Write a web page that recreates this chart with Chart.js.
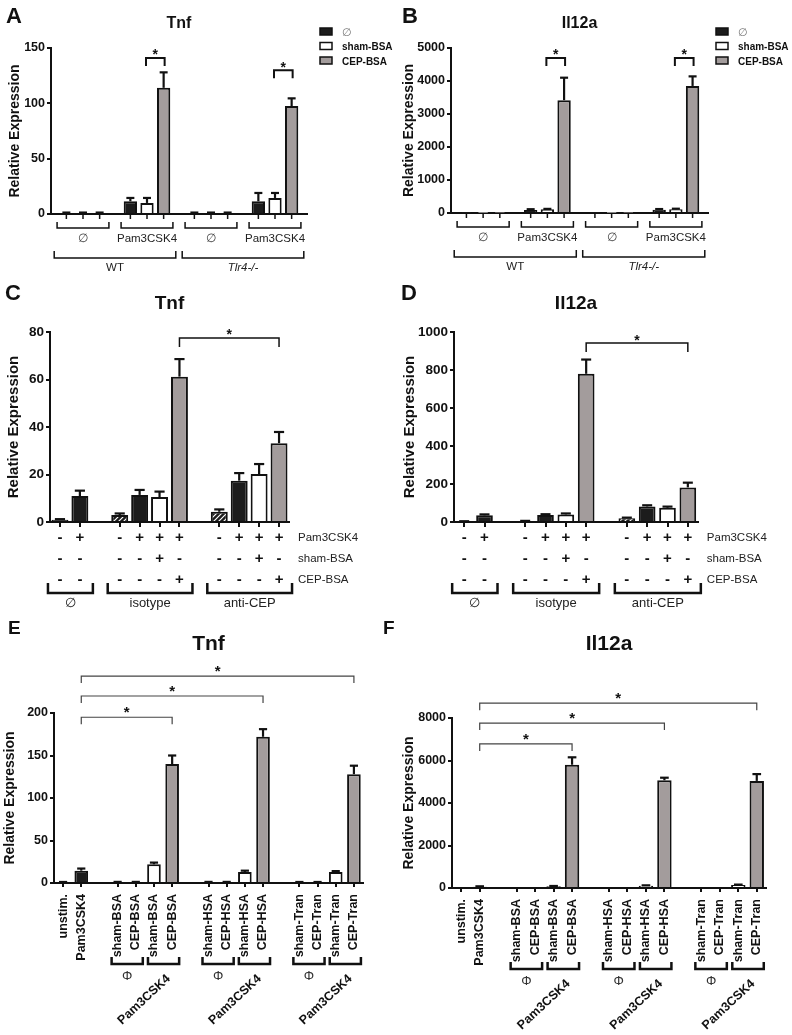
<!DOCTYPE html>
<html>
<head>
<meta charset="utf-8">
<script src="https://cdn.jsdelivr.net/npm/chart.js@4.4.0/dist/chart.umd.min.js"></script>
<style>
  body { margin: 0; background: #fff; width: 792px; height: 1035px; position: relative; overflow: hidden; }
  canvas { position: absolute; }
</style>
</head>
<body>
<canvas id="cA" width="396" height="280" style="left:0;top:0"></canvas>
<canvas id="cB" width="396" height="280" style="left:396px;top:0"></canvas>
<canvas id="cC" width="396" height="335" style="left:0;top:280px"></canvas>
<canvas id="cD" width="396" height="335" style="left:396px;top:280px"></canvas>
<canvas id="cE" width="396" height="420" style="left:0;top:615px"></canvas>
<canvas id="cF" width="396" height="420" style="left:396px;top:615px"></canvas>
<script>
// ---------- data: panels A / B (4 stimulation groups x 3 series) ----------
const groupsAB = ['∅', 'Pam3CSK4', '∅', 'Pam3CSK4'];
const strainsAB = ['WT', 'Tlr4-/-'];
const seriesNames = ['∅', 'sham-BSA', 'CEP-BSA'];

const tnfNone = [1, 11.5, 1, 11.5];
const tnfNoneErr = [0.3, 3, 0.3, 7.5];
const tnfSham = [1, 10, 1, 14.5];
const tnfShamErr = [0.3, 4.5, 0.3, 4.5];
const tnfCep = [1, 114, 1, 97.5];
const tnfCepErr = [0.3, 14, 0.3, 7];

const il12None = [2, 90, 2, 100];
const il12NoneErr = [0, 25, 0, 20];
const il12Sham = [2, 110, 2, 115];
const il12ShamErr = [0, 15, 0, 15];
const il12Cep = [2, 3420, 2, 3850];
const il12CepErr = [0, 680, 0, 290];

// ---------- data: panels C / D ----------
const pam3Row = ['-', '+', '', '-', '+', '+', '+', '', '-', '+', '+', '+'];
const shamRow = ['-', '-', '', '-', '-', '+', '-', '', '-', '-', '+', '-'];
const cepRow  = ['-', '-', '', '-', '-', '-', '+', '', '-', '-', '-', '+'];
const rowNames = ['Pam3CSK4', 'sham-BSA', 'CEP-BSA'];
const antibodyNames = ['∅', 'isotype', 'anti-CEP'];
const antibodyOf = [0, 0, null, 1, 1, 1, 1, null, 2, 2, 2, 2];
const kindCD = ['none', 'none', '', 'hatch', 'none', 'sham', 'cep', '', 'hatch', 'none', 'sham', 'cep'];

const tnfC = [1, 10.9, null, 2.9, 11.4, 10.5, 61.2, null, 4.3, 17.4, 20.2, 33.2];
const tnfCErr = [0.2, 2.3, null, 0.7, 2.1, 2.3, 7.4, null, 1, 3.2, 4.2, 4.7];
const il12D = [3, 35, null, 5, 37, 40, 780, null, 20, 82, 75, 182];
const il12DErr = [1, 5, null, 1, 4, 5, 75, null, 3, 6, 6, 25];

// ---------- data: panels E / F ----------
const labelsEF = ['unstim.', 'Pam3CSK4', '', 'sham-BSA', 'CEP-BSA', 'sham-BSA', 'CEP-BSA', '',
  'sham-HSA', 'CEP-HSA', 'sham-HSA', 'CEP-HSA', '', 'sham-Tran', 'CEP-Tran', 'sham-Tran', 'CEP-Tran'];
const kindEF = ['sham', 'none', '', 'sham', 'cep', 'sham', 'cep', '', 'sham', 'cep', 'sham', 'cep', '',
  'sham', 'cep', 'sham', 'cep'];
const pairOf = [null, null, null, 0, 0, 1, 1, null, 2, 2, 3, 3, null, 4, 4, 5, 5];
const pairNames = ['Φ', 'Pam3CSK4', 'Φ', 'Pam3CSK4', 'Φ', 'Pam3CSK4'];

const tnfE = [1, 14.5, null, 1, 1, 22, 140, null, 1, 1, 13, 172, null, 1, 1, 13, 128];
const tnfEErr = [0.2, 2.5, null, 0.3, 0.3, 2, 10, null, 0.3, 0.3, 1.5, 9, null, 0.2, 0.2, 1, 10];
const il12F = [0, 60, null, 0, 0, 80, 5800, null, 0, 0, 110, 5070, null, 0, 0, 140, 5040];
const il12FErr = [0, 20, null, 0, 0, 15, 350, null, 0, 0, 15, 120, null, 0, 0, 20, 320];

// significance brackets (value = height of the bracket in axis units)
const sigA = [{cat: 1, from: 1, to: 2, y: 141}, {cat: 3, from: 1, to: 2, y: 130}];
const sigB = [{cat: 1, from: 1, to: 2, y: 4700}, {cat: 3, from: 1, to: 2, y: 4700}];
const sigC = [{from: 6, to: 11, y: 77.5}];
const sigD = [{from: 6, to: 11, y: 942}];
const sigE = [{from: 1, to: 6, y: 195}, {from: 1, to: 11, y: 220}, {from: 1, to: 16, y: 243.5}];
const sigF = [{from: 1, to: 6, y: 6780}, {from: 1, to: 11, y: 7760}, {from: 1, to: 16, y: 8700}];

// ---------- styles ----------
const FONT = '"Liberation Sans", Arial, Helvetica, sans-serif';
const INK = '#111111';
const FILLS = {none: '#1c1c1c', sham: '#ffffff', cep: '#a39c9c'};
FILLS.hatch = (function () {
  const c = document.createElement('canvas');
  c.width = 5; c.height = 5;
  const g = c.getContext('2d');
  g.fillStyle = '#1c1c1c'; g.fillRect(0, 0, 5, 5);
  g.strokeStyle = '#ffffff'; g.lineWidth = 1.2;
  g.beginPath();
  g.moveTo(0, 5); g.lineTo(5, 0);
  g.moveTo(-1, 1); g.lineTo(1, -1);
  g.moveTo(4, 6); g.lineTo(6, 4);
  g.stroke();
  return g.createPattern(c, 'repeat');
})();
const SERIES_FILL = [FILLS.none, FILLS.sham, FILLS.cep];

Chart.defaults.font.family = FONT;
Chart.defaults.color = INK;

function font(size, weight, style) {
  return (style || '') + ' ' + (weight || 'normal') + ' ' + size + 'px ' + FONT;
}
function line(ctx, pts, lw, color) {
  ctx.save();
  ctx.strokeStyle = color || INK; ctx.lineWidth = lw; ctx.lineCap = 'butt'; ctx.lineJoin = 'miter';
  ctx.beginPath();
  pts.forEach((p, i) => i ? ctx.lineTo(p[0], p[1]) : ctx.moveTo(p[0], p[1]));
  ctx.stroke();
  ctx.restore();
}
function text(ctx, s, x, y, f, align, color, baseline) {
  ctx.save();
  ctx.font = f; ctx.fillStyle = color || INK;
  ctx.textAlign = align || 'center'; ctx.textBaseline = baseline || 'alphabetic';
  ctx.fillText(s, x, y);
  ctx.restore();
}
function bracket(ctx, x1, x2, yy, leg, lw, color, starFont, starDy) {
  line(ctx, [[x1, yy + leg], [x1, yy], [x2, yy], [x2, yy + leg]], lw, color);
  text(ctx, '*', (x1 + x2) / 2, yy + starDy, starFont, 'center', INK);
}
function span(arr, k) {
  const idx = [];
  arr.forEach((v, i) => { if (v === k) idx.push(i); });
  return [idx[0], idx[idx.length - 1]];
}

// error bars (upper only) drawn from each dataset's "errors" array
Chart.register({
  id: 'errorBars',
  afterDatasetsDraw(chart) {
    const ctx = chart.ctx, y = chart.scales.y;
    chart.data.datasets.forEach((ds, di) => {
      if (!ds.errors) return;
      chart.getDatasetMeta(di).data.forEach((bar, i) => {
        const v = ds.data[i], e = ds.errors[i];
        if (v == null || !e) return;
        const top = y.getPixelForValue(v + e);
        const half = Math.max(3.5, bar.width * 0.3);
        line(ctx, [[bar.x, bar.y], [bar.x, top]], 2.2);
        line(ctx, [[bar.x - half, top], [bar.x + half, top]], 2.2);
      });
    });
  }
});

function baseOptions(o) {
  return {
    responsive: false,
    animation: false,
    layout: {padding: {left: 0, top: o.top, right: 396 - o.right, bottom: 0}},
    plugins: {legend: {display: false}, title: {display: false}, tooltip: {enabled: false}},
    scales: {
      x: Object.assign({
        border: {color: INK, width: 2},
        afterFit: s => { s.height = o.H - o.bottom; }
      }, o.x),
      y: {
        min: 0, max: o.yMax,
        ticks: {stepSize: o.yStep, font: {size: o.tickSize, weight: 'bold'}, padding: 2, color: INK,
          callback: v => String(v)},
        grid: {drawOnChartArea: false, drawTicks: true, tickLength: 4, color: INK, lineWidth: 2},
        border: {color: INK, width: 2},
        title: {display: true, text: 'Relative Expression', color: INK,
          font: {size: o.titleSize, weight: 'bold'}, padding: {top: o.titlePad, bottom: 0}},
        afterFit: s => { s.width = o.left; }
      }
    }
  };
}

// ---------- panels A / B ----------
function decoAB(letter, title, legendX, sigs) {
  return {
    id: 'deco' + letter,
    afterDraw(chart) {
      const ctx = chart.ctx, a = chart.chartArea, x = chart.scales.x, y = chart.scales.y;
      text(ctx, letter, 6, 23, font(22, 'bold'), 'left');
      text(ctx, title, (a.left + a.right) / 2, 28, font(16, 'bold'));
      seriesNames.forEach((name, i) => {
        const top = 28 + i * 14.5;
        ctx.save();
        ctx.fillStyle = SERIES_FILL[i];
        ctx.fillRect(legendX, top, 12, 7);
        ctx.strokeStyle = INK; ctx.lineWidth = 1.5;
        ctx.strokeRect(legendX, top, 12, 7);
        ctx.restore();
        text(ctx, name, legendX + 22, top + 7.5, i ? font(10, 'bold') : font(11), 'left', i ? INK : '#777');
      });
      chart.data.datasets.forEach((ds, di) => {
        chart.getDatasetMeta(di).data.forEach(b => line(ctx, [[b.x, a.bottom], [b.x, a.bottom + 5]], 1.5));
      });
      const half = (x.getPixelForValue(1) - x.getPixelForValue(0)) / 2;
      groupsAB.forEach((g, i) => {
        const cx = x.getPixelForValue(i), w = half * 0.81, yb = a.bottom + 14;
        line(ctx, [[cx - w, yb - 6], [cx - w, yb], [cx + w, yb], [cx + w, yb - 6]], 1.5);
        text(ctx, g, cx, a.bottom + 28, font(11.5), 'center', g === '∅' ? '#444' : '#222');
      });
      strainsAB.forEach((s, k) => {
        const x0 = x.getPixelForValue(2 * k) - half * 0.9;
        const x1 = x.getPixelForValue(2 * k + 1) + half * 0.9;
        const yb = a.bottom + 44;
        line(ctx, [[x0, yb - 7], [x0, yb], [x1, yb], [x1, yb - 7]], 1.5);
        text(ctx, s, (x0 + x1) / 2, a.bottom + 57, font(11.5, 'normal', k ? 'italic' : ''), 'center', '#222');
      });
      sigs.forEach(s => {
        const b1 = chart.getDatasetMeta(s.from).data[s.cat], b2 = chart.getDatasetMeta(s.to).data[s.cat];
        bracket(ctx, b1.x - 1, b2.x + 1, y.getPixelForValue(s.y), 8, 2, INK, font(14, 'bold'), 1.5);
      });
    }
  };
}
function abDatasets(vals, errs) {
  return vals.map((v, i) => ({
    label: seriesNames[i], data: v, errors: errs[i],
    backgroundColor: SERIES_FILL[i], borderColor: INK, borderWidth: 2,
    categoryPercentage: 0.78, barPercentage: 0.8
  }));
}
const xAB = {
  grid: {display: true, drawOnChartArea: false, drawTicks: false},
  ticks: {display: false}
};

new Chart(document.getElementById('cA'), {
  type: 'bar',
  data: {labels: groupsAB, datasets: abDatasets([tnfNone, tnfSham, tnfCep], [tnfNoneErr, tnfShamErr, tnfCepErr])},
  options: baseOptions({H: 280, left: 51, top: 48, right: 307, bottom: 214, yMax: 150, yStep: 50,
    tickSize: 12.5, titleSize: 14, titlePad: 7, x: xAB}),
  plugins: [decoAB('A', 'Tnf', 320, sigA)]
});
new Chart(document.getElementById('cB'), {
  type: 'bar',
  data: {labels: groupsAB, datasets: abDatasets([il12None, il12Sham, il12Cep], [il12NoneErr, il12ShamErr, il12CepErr])},
  options: baseOptions({H: 280, left: 55, top: 48, right: 312, bottom: 213, yMax: 5000, yStep: 1000,
    tickSize: 12.5, titleSize: 14, titlePad: 5, x: xAB}),
  plugins: [decoAB('B', 'Il12a', 320, sigB)]
});

// ---------- panels C / D ----------
function decoCD(letter, title, sigs) {
  return {
    id: 'deco' + letter,
    afterDraw(chart) {
      const ctx = chart.ctx, a = chart.chartArea, x = chart.scales.x, y = chart.scales.y;
      text(ctx, letter, 5, 20, font(22, 'bold'), 'left');
      text(ctx, title, (a.left + a.right) / 2, 29, font(19, 'bold'));
      const lx = x.getPixelForValue(pam3Row.length - 1) + 19;
      rowNames.forEach((r, j) => text(ctx, r, lx, a.bottom + 15.5 + j * 21, font(11.5), 'left', '#222', 'middle'));
      antibodyNames.forEach((g, k) => {
        const [i0, i1] = span(antibodyOf, k);
        const x0 = x.getPixelForValue(i0) - 12, x1 = x.getPixelForValue(i1) + 13, yb = a.bottom + 71;
        line(ctx, [[x0, yb - 10], [x0, yb], [x1, yb], [x1, yb - 10]], 2.5);
        text(ctx, g, (x0 + x1) / 2, a.bottom + 81, font(13), 'center', '#222', 'middle');
      });
      sigs.forEach(s => bracket(ctx, x.getPixelForValue(s.from), x.getPixelForValue(s.to),
        y.getPixelForValue(s.y), 9, 1.5, INK, font(14, 'bold'), 1.5));
    }
  };
}
const xCD = {
  offset: true,
  grid: {drawOnChartArea: false, drawTicks: true, tickLength: 5, offset: false, lineWidth: 2,
    color: c => pam3Row[c.index] === '' ? 'rgba(0,0,0,0)' : INK},
  ticks: {autoSkip: false, maxRotation: 0, padding: 0, color: INK,
    font: {size: 15, weight: 'bold', lineHeight: 1.4}}
};
const labelsCD = pam3Row.map((p, i) => [p, shamRow[i], cepRow[i]]);
function cdDataset(vals, errs, pct) {
  return [{
    data: vals, errors: errs,
    backgroundColor: kindCD.map(k => FILLS[k] || 'rgba(0,0,0,0)'),
    borderColor: INK, borderWidth: 2, categoryPercentage: 1, barPercentage: pct
  }];
}
new Chart(document.getElementById('cC'), {
  type: 'bar',
  data: {labels: labelsCD, datasets: cdDataset(tnfC, tnfCErr, 0.85)},
  options: baseOptions({H: 335, left: 50, top: 52, right: 289, bottom: 242, yMax: 80, yStep: 20,
    tickSize: 13.5, titleSize: 15, titlePad: 5, x: xCD}),
  plugins: [decoCD('C', 'Tnf', sigC)]
});
new Chart(document.getElementById('cD'), {
  type: 'bar',
  data: {labels: labelsCD, datasets: cdDataset(il12D, il12DErr, 0.82)},
  options: baseOptions({H: 335, left: 58, top: 52, right: 302, bottom: 242, yMax: 1000, yStep: 200,
    tickSize: 13.5, titleSize: 15, titlePad: 5, x: xCD}),
  plugins: [decoCD('D', 'Il12a', sigD)]
});

// ---------- panels E / F ----------
function decoEF(title, sigs, letters) {
  return {
    id: 'deco' + title,
    afterDraw(chart) {
      const ctx = chart.ctx, a = chart.chartArea, x = chart.scales.x, y = chart.scales.y;
      letters.forEach(l => text(ctx, l.t, l.x, 19, font(19, 'bold'), 'left'));
      text(ctx, title, (a.left + a.right) / 2, 35, font(21, 'bold'));
      sigs.forEach(s => bracket(ctx, x.getPixelForValue(s.from), x.getPixelForValue(s.to),
        y.getPixelForValue(s.y), 7, 1.2, '#444', font(15, 'bold'), 0));
      pairNames.forEach((p, k) => {
        const [i0, i1] = span(pairOf, k);
        const x0 = x.getPixelForValue(i0) - 6, x1 = x.getPixelForValue(i1) + 7, yb = a.bottom + 81;
        line(ctx, [[x0, yb - 7], [x0, yb], [x1, yb], [x1, yb - 7]], 2.5);
        const cx = (x0 + x1) / 2;
        if (p === 'Φ') {
          text(ctx, p, cx, a.bottom + 93, font(13), 'center', '#333', 'middle');
        } else {
          ctx.save();
          ctx.translate(cx + 5, a.bottom + 94);
          ctx.rotate(-0.75);
          text(ctx, p, 0, 0, font(12.5, 'bold'), 'right', INK, 'middle');
          ctx.restore();
        }
      });
    }
  };
}
const xEF = {
  offset: true,
  grid: {drawOnChartArea: false, drawTicks: true, tickLength: 4, offset: false, lineWidth: 2,
    color: c => labelsEF[c.index] === '' ? 'rgba(0,0,0,0)' : INK},
  ticks: {autoSkip: false, minRotation: 90, maxRotation: 90, padding: 7, color: INK,
    font: {size: 12.5, weight: 'bold'}}
};
function efDataset(vals, errs, pct) {
  return [{
    data: vals, errors: errs,
    backgroundColor: kindEF.map(k => FILLS[k] || 'rgba(0,0,0,0)'),
    borderColor: INK, borderWidth: 2, categoryPercentage: 1, barPercentage: pct
  }];
}
new Chart(document.getElementById('cE'), {
  type: 'bar',
  data: {labels: labelsEF, datasets: efDataset(tnfE, tnfEErr, 0.75)},
  options: baseOptions({H: 420, left: 54, top: 98, right: 363, bottom: 268, yMax: 200, yStep: 50,
    tickSize: 12.5, titleSize: 14, titlePad: 2, x: xEF}),
  plugins: [decoEF('Tnf', sigE, [{t: 'E', x: 8}, {t: 'F', x: 383}])]
});
new Chart(document.getElementById('cF'), {
  type: 'bar',
  data: {labels: labelsEF, datasets: efDataset(il12F, il12FErr, 0.78)},
  options: baseOptions({H: 420, left: 56, top: 103, right: 370, bottom: 273, yMax: 8000, yStep: 2000,
    tickSize: 12.5, titleSize: 14, titlePad: 5, x: xEF}),
  plugins: [decoEF('Il12a', sigF, [])]
});
</script>
</body>
</html>
